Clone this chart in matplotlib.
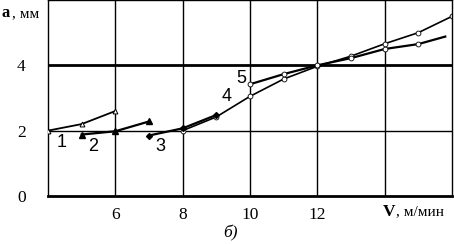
import numpy as np
import matplotlib.pyplot as plt

# curves 1-5: cutting speed V (m/min) vs a (mm)
v1 = [4, 5, 6]
a1 = [2.0, 2.2, 2.6]
v2 = [5, 6, 7]
a2 = [1.88, 1.98, 2.28]
v3 = [7, 8, 9]
a3 = [1.85, 2.07, 2.48]
v4 = [8, 9, 10, 11, 12, 13, 14, 15, 16]
a4 = [2.0, 2.42, 3.05, 3.58, 3.97, 4.28, 4.66, 5.0, 5.5]
v5 = [10, 11, 12, 13, 14, 15, 15.8]
a5 = [3.42, 3.73, 4.0, 4.22, 4.5, 4.65, 4.88]

curve_labels = ["1", "2", "3", "4", "5"]
label_pos = [(4.4, 1.65), (5.35, 1.5), (7.35, 1.5), (9.3, 3.05), (9.75, 3.6)]

fig = plt.figure(figsize=(4.54, 2.44), dpi=100)
ax = fig.add_axes([0.1057, 0.197, 0.8899, 0.803])

# grid
for x in [6, 8, 10, 12, 14]:
    ax.axvline(x, color='black', lw=1.0, zorder=1)
ax.axhline(2, color='black', lw=1.0, zorder=1)
ax.axhline(4, color='black', lw=2.0, zorder=1)

ax.plot(v1, a1, color='black', lw=1.3, marker='^', ms=3.5, mfc='white', mec='black', mew=0.7, zorder=3)
ax.plot(v2, a2, color='black', lw=1.6, marker='^', ms=4.5, mfc='black', mec='black', zorder=3)
ax.plot(v3, a3, color='black', lw=1.6, marker='D', ms=3, mfc='black', mec='black', zorder=3)
ax.plot(v4, a4, color='black', lw=1.2, marker='o', ms=3.5, mfc='white', mec='black', mew=0.6, zorder=2)
ax.plot(v5, a5, color='black', lw=1.6, marker='o', ms=3.5, mfc='white', mec='black', mew=0.6,
        markevery=[0, 1, 2, 3, 4, 5], zorder=2)

for t, (x, y) in zip(curve_labels, label_pos):
    ax.text(x, y, t, fontsize=13, family='Liberation Sans', ha='center', va='center')

ax.set_xlim(4, 16)
ax.set_ylim(0, 6)
ax.set_xticks([6, 8, 10, 12])
ax.set_yticks([0, 2, 4])
ax.tick_params(length=0, pad=8, labelsize=12.5)
for lab in ax.get_xticklabels() + ax.get_yticklabels():
    lab.set_family('Liberation Serif')
ax.tick_params(axis='y', pad=16)

for s in ['left', 'right', 'top']:
    ax.spines[s].set_linewidth(1.0)
ax.spines['bottom'].set_linewidth(2.0)

fig.text(0.003, 0.945, "а", fontsize=12, fontweight='bold', family='Liberation Serif', va='center')
fig.text(0.027, 0.945, ", мм", fontsize=11, family='Liberation Serif', va='center')
fig.text(0.843, 0.132, "V", fontsize=12.5, fontweight='bold', family='Liberation Serif', va='center')
fig.text(0.873, 0.132, ", м/мин", fontsize=11, family='Liberation Serif', va='center')
fig.text(0.507, 0.045, "б)", fontsize=12.5, style='italic', family='Liberation Serif', ha='center', va='center')

fig.savefig("out.png", dpi=100)
